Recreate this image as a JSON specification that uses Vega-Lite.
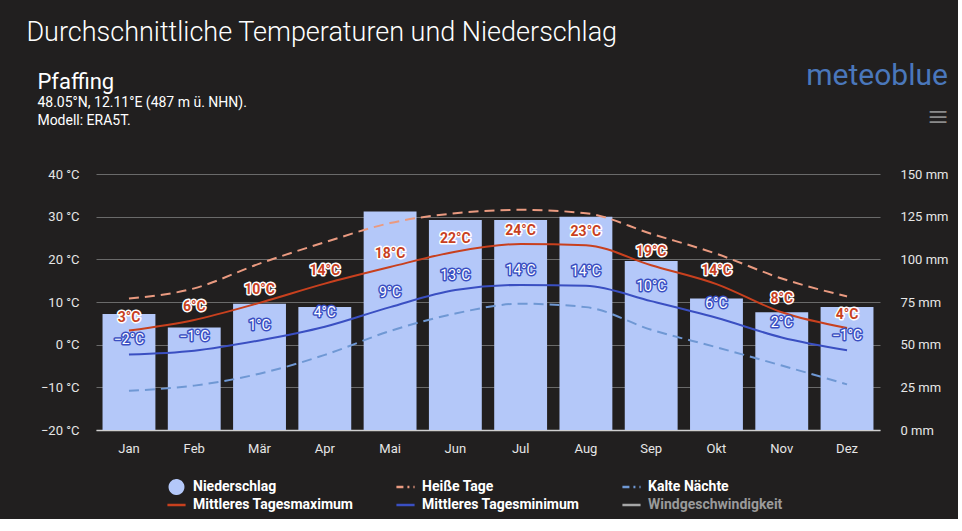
{
  "$schema": "https://vega.github.io/schema/vega-lite/v6.json",
  "background": "#211f1f",
  "padding": {"left": 26, "top": 19, "right": 10, "bottom": 5},
  "title": {
    "text": "Durchschnittliche Temperaturen und Niederschlag",
    "anchor": "start",
    "frame": "bounds",
    "font": "Roboto",
    "fontSize": 27,
    "fontWeight": 300,
    "color": "#ffffff",
    "dx": -11,
    "offset": 14
  },
  "vconcat": [
    {
      "title": {
        "text": "meteoblue",
        "subtitle": "≡",
        "anchor": "end",
        "frame": "bounds",
        "font": "Roboto",
        "fontSize": 30,
        "fontWeight": "normal",
        "color": "#4a77bb",
        "subtitleFont": "Roboto",
        "subtitleFontSize": 36,
        "subtitleColor": "#8a8a8a",
        "subtitlePadding": 10,
        "offset": -65
      },
      "vconcat": [
        {
          "width": 784,
          "height": 256,
          "title": {
            "text": "Pfaffing",
            "subtitle": ["48.05°N, 12.11°E (487 m ü. NHN).", "Modell: ERA5T."],
            "anchor": "start",
            "frame": "bounds",
            "font": "Roboto",
            "fontSize": 22,
            "fontWeight": "normal",
            "color": "#ffffff",
            "subtitleFont": "Roboto",
            "subtitleFontSize": 14,
            "subtitleColor": "#ffffff",
            "subtitleLineHeight": 18,
            "subtitlePadding": 2,
            "dx": -3,
            "offset": 39
          },
          "data": {
            "values": [
              {"month": "Jan", "precip": 68, "tmax": 3.3, "tmin": -2.3, "hot": 10.8, "cold": -10.8, "tmaxLabel": "3°C", "tminLabel": "−2°C"},
              {"month": "Feb", "precip": 60, "tmax": 5.8, "tmin": -1.4, "hot": 13.2, "cold": -9.6, "tmaxLabel": "6°C", "tminLabel": "−1°C"},
              {"month": "Mär", "precip": 74, "tmax": 9.8, "tmin": 1.0, "hot": 19.0, "cold": -6.8, "tmaxLabel": "10°C", "tminLabel": "1°C"},
              {"month": "Apr", "precip": 72, "tmax": 14.3, "tmin": 4.2, "hot": 24.0, "cold": -2.4, "tmaxLabel": "14°C", "tminLabel": "4°C"},
              {"month": "Mai", "precip": 128, "tmax": 18.2, "tmin": 8.8, "hot": 28.5, "cold": 3.2, "tmaxLabel": "18°C", "tminLabel": "9°C"},
              {"month": "Jun", "precip": 123, "tmax": 21.8, "tmin": 12.8, "hot": 30.8, "cold": 7.3, "tmaxLabel": "22°C", "tminLabel": "13°C"},
              {"month": "Jul", "precip": 123, "tmax": 23.6, "tmin": 14.0, "hot": 31.6, "cold": 9.6, "tmaxLabel": "24°C", "tminLabel": "14°C"},
              {"month": "Aug", "precip": 125, "tmax": 23.3, "tmin": 13.8, "hot": 30.8, "cold": 8.8, "tmaxLabel": "23°C", "tminLabel": "14°C"},
              {"month": "Sep", "precip": 99, "tmax": 18.6, "tmin": 10.2, "hot": 26.0, "cold": 3.5, "tmaxLabel": "19°C", "tminLabel": "10°C"},
              {"month": "Okt", "precip": 77, "tmax": 14.2, "tmin": 6.3, "hot": 21.3, "cold": -0.6, "tmaxLabel": "14°C", "tminLabel": "6°C"},
              {"month": "Nov", "precip": 69, "tmax": 7.6, "tmin": 1.7, "hot": 15.5, "cold": -4.9, "tmaxLabel": "8°C", "tminLabel": "2°C"},
              {"month": "Dez", "precip": 72, "tmax": 3.9, "tmin": -1.3, "hot": 11.3, "cold": -9.3, "tmaxLabel": "4°C", "tminLabel": "−1°C"}
            ]
          },
          "encoding": {
            "x": {
              "field": "month",
              "type": "nominal",
              "sort": ["Jan", "Feb", "Mär", "Apr", "Mai", "Jun", "Jul", "Aug", "Sep", "Okt", "Nov", "Dez"],
              "scale": {"paddingInner": 0.19, "paddingOuter": 0.1},
              "axis": {
                "title": null,
                "labelAngle": 0,
                "labelColor": "#e6e6e6",
                "labelFont": "Roboto",
                "labelFontSize": 13,
                "labelPadding": 12,
                "ticks": false,
                "domain": true,
                "domainColor": "#cfcfcf",
                "domainWidth": 1.5,
                "grid": false
              }
            }
          },
          "layer": [
            {
              "mark": {"type": "bar"},
              "encoding": {
                "y": {
                  "field": "precip",
                  "type": "quantitative",
                  "scale": {"domain": [0, 150], "nice": false, "zero": true},
                  "axis": {
                    "orient": "right",
                    "title": null,
                    "values": [0, 25, 50, 75, 100, 125, 150],
                    "labelExpr": "datum.value + ' mm'",
                    "labelColor": "#e6e6e6",
                    "labelFont": "Roboto",
                    "labelFontSize": 13,
                    "labelPadding": 20,
                    "ticks": false,
                    "domain": false,
                    "grid": false
                  }
                },
                "color": {
                  "datum": "Niederschlag",
                  "type": "nominal",
                  "scale": {
                    "domain": ["Niederschlag", "Heiße Tage", "Kalte Nächte", "Mittleres Tagesmaximum", "Mittleres Tagesminimum", "Windgeschwindigkeit"],
                    "range": ["#b4c8f9", "#ea9a80", "#6f98d4", "#c8401e", "#3a4fc2", "#a6a6a6"]
                  },
                  "legend": {
                    "title": null,
                    "orient": "none",
                    "legendX": 70,
                    "legendY": 304,
                    "direction": "horizontal",
                    "columns": 3,
                    "labelColor": "#ffffff",
                    "labelFont": "Roboto",
                    "labelFontSize": 14,
                    "labelFontWeight": "bold",
                    "labelOffset": 6,
                    "labelLimit": 300,
                    "columnPadding": 41,
                    "rowPadding": 0,
                    "clipHeight": 18,
                    "symbolStrokeWidth": 2.5,
                    "encode": {
                      "symbols": {
                        "update": {
                          "shape": {"signal": "datum.value === 'Niederschlag' ? 'circle' : 'M-1,0H1M0,-0.75M0,0.75'"},
                          "size": {"signal": "datum.value === 'Niederschlag' ? 180 : 330"},
                          "fill": {"signal": "datum.value === 'Niederschlag' ? '#b4c8f9' : 'transparent'"},
                          "stroke": {"signal": "datum.value === 'Niederschlag' ? 'transparent' : (datum.value === 'Heiße Tage' ? '#ea9a80' : datum.value === 'Kalte Nächte' ? '#6f98d4' : datum.value === 'Mittleres Tagesmaximum' ? '#c8401e' : datum.value === 'Mittleres Tagesminimum' ? '#3a4fc2' : '#a6a6a6')"},
                          "strokeWidth": {"value": 2.5},
                          "strokeDash": {"signal": "(datum.value === 'Heiße Tage' || datum.value === 'Kalte Nächte') ? [7, 4, 2, 4] : [1, 0]"},
                          "opacity": {"value": 1}
                        }
                      },
                      "labels": {
                        "update": {
                          "fill": {"signal": "datum.value === 'Windgeschwindigkeit' ? '#9a9a9a' : '#ffffff'"}
                        }
                      }
                    }
                  }
                }
              }
            },
            {
              "encoding": {
                "y": {
                  "type": "quantitative",
                  "scale": {"domain": [-20, 40], "nice": false, "zero": false},
                  "axis": {
                    "orient": "left",
                    "title": null,
                    "values": [-20, -10, 0, 10, 20, 30, 40],
                    "labelExpr": "replace(datum.value + ' °C', '-', '−')",
                    "labelColor": "#e6e6e6",
                    "labelFont": "Roboto",
                    "labelFontSize": 13,
                    "labelPadding": 17,
                    "ticks": false,
                    "domain": false,
                    "grid": true,
                    "gridColor": "#6a6a6a",
                    "gridWidth": 1
                  }
                }
              },
              "layer": [
                {
                  "mark": {"type": "line", "strokeWidth": 2, "strokeDash": [10, 6], "interpolate": "monotone"},
                  "encoding": {
                    "y": {"field": "hot", "type": "quantitative"},
                    "color": {"datum": "Heiße Tage", "type": "nominal"}
                  }
                },
                {
                  "mark": {"type": "line", "strokeWidth": 2, "strokeDash": [10, 6], "interpolate": "monotone"},
                  "encoding": {
                    "y": {"field": "cold", "type": "quantitative"},
                    "color": {"datum": "Kalte Nächte", "type": "nominal"}
                  }
                },
                {
                  "mark": {"type": "line", "strokeWidth": 2, "interpolate": "monotone"},
                  "encoding": {
                    "y": {"field": "tmax", "type": "quantitative"},
                    "color": {"datum": "Mittleres Tagesmaximum", "type": "nominal"}
                  }
                },
                {
                  "mark": {"type": "line", "strokeWidth": 2, "interpolate": "monotone"},
                  "encoding": {
                    "y": {"field": "tmin", "type": "quantitative"},
                    "color": {"datum": "Mittleres Tagesminimum", "type": "nominal"}
                  }
                },
                {
                  "mark": {"type": "text", "dy": -13, "font": "Roboto", "fontSize": 14, "fontWeight": "bold", "stroke": "#ffffff", "strokeWidth": 3, "strokeJoin": "round", "fill": "#ffffff"},
                  "encoding": {
                    "y": {"field": "tmax", "type": "quantitative"},
                    "text": {"field": "tmaxLabel"}
                  }
                },
                {
                  "mark": {"type": "text", "dy": -13, "font": "Roboto", "fontSize": 14, "fontWeight": "bold", "fill": "#c8401e"},
                  "encoding": {
                    "y": {"field": "tmax", "type": "quantitative"},
                    "text": {"field": "tmaxLabel"}
                  }
                },
                {
                  "mark": {"type": "text", "dy": -14, "font": "Roboto", "fontSize": 14, "fontWeight": "normal", "stroke": "#3a4fc2", "strokeWidth": 3, "strokeJoin": "round", "fill": "#3a4fc2"},
                  "encoding": {
                    "y": {"field": "tmin", "type": "quantitative"},
                    "text": {"field": "tminLabel"}
                  }
                },
                {
                  "mark": {"type": "text", "dy": -14, "font": "Roboto", "fontSize": 14, "fontWeight": "normal", "fill": "#ffffff"},
                  "encoding": {
                    "y": {"field": "tmin", "type": "quantitative"},
                    "text": {"field": "tminLabel"}
                  }
                }
              ]
            }
          ],
          "resolve": {"scale": {"y": "independent"}}
        }
      ]
    }
  ],
  "config": {
    "view": {"stroke": null},
    "font": "Roboto"
  }
}
